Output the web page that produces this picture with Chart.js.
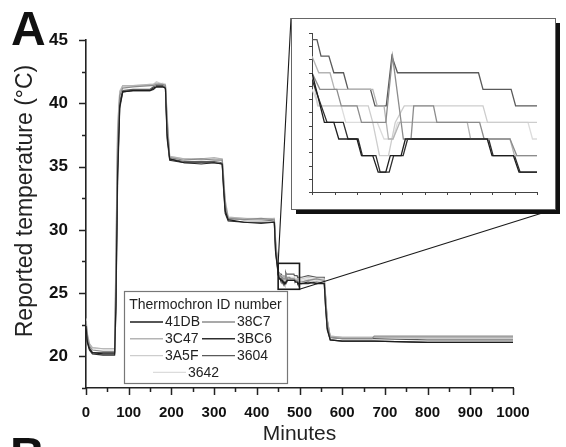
<!DOCTYPE html>
<html>
<head>
<meta charset="utf-8">
<script src="https://cdn.jsdelivr.net/npm/chart.js@4/dist/chart.umd.min.js"></script>
<style>
  html, body { margin: 0; padding: 0; background: #fff; }
  #wrap { position: relative; width: 566px; height: 447px; overflow: hidden; }
  #main { position: absolute; left: 0; top: 0; }
  #inset { position: absolute; left: 289px; top: 16px; }
</style>
</head>
<body>
<div id="wrap">
  <canvas id="main" width="566" height="447"></canvas>
  <canvas id="inset" width="272" height="200"></canvas>
</div>
<script>
// logger ids, in legend order
const loggers = ['41DB', '38C7', '3C47', '3BC6', '3A5F', '3604', '3642'];
const lineColors = ['#1e1e1e', '#8c8c8c', '#b4b4b4', '#2e2e2e', '#cdcdcd', '#5a5a5a', '#dcdcdc'];

// sample times for the whole run (min); 450-500 is filled in by the zoom traces
const runMinutes = [0, 3, 8, 15, 40, 67, 70, 74, 79, 86, 110, 150, 158, 165, 180, 186, 190, 196,
  230, 270, 300, 319, 322, 326, 333, 370, 410, 441, 444, 449,
  505, 520, 540, 558, 561, 565, 572, 600, 670, 675, 800, 1000];

const run41DB = [22.4, 21.2, 20.6, 20.3, 20.2, 20.2, 24.0, 34.5, 39.8, 40.9, 41.0, 41.0, 41.2, 41.3, 41.3, 41.2, 37.5, 35.6,
  35.3, 35.3, 35.3, 35.2, 33.5, 31.5, 30.8, 30.6, 30.6, 30.6, 28.3, 26.9,
  25.75, 25.875, 25.75, 25.75, 24.0, 22.2, 21.3, 21.2, 21.2, 21.2, 21.1, 21.1];
const run38C7 = [22.8, 21.6, 20.8, 20.5, 20.4, 20.4, 26.0, 37.0, 40.6, 41.2, 41.3, 41.4, 41.4, 41.5, 41.5, 41.4, 38.5, 35.7,
  35.5, 35.6, 35.5, 35.5, 34.0, 32.0, 30.9, 30.8, 30.9, 30.8, 29.0, 27.2,
  25.875, 26.0, 26.125, 26.0, 24.5, 22.6, 21.5, 21.4, 21.4, 21.6, 21.6, 21.6];
const run3C47 = [22.9, 21.8, 21.0, 20.7, 20.6, 20.6, 27.5, 38.0, 40.9, 41.4, 41.4, 41.5, 41.5, 41.6, 41.5, 41.5, 39.0, 35.8,
  35.6, 35.6, 35.7, 35.6, 34.3, 32.3, 31.0, 30.9, 30.8, 30.9, 29.2, 27.4,
  25.875, 26.0, 25.875, 25.875, 24.6, 22.7, 21.6, 21.5, 21.5, 21.5, 21.5, 21.5];
const run3BC6 = [22.3, 21.1, 20.5, 20.2, 20.1, 20.1, 23.5, 33.8, 39.6, 40.9, 41.0, 41.0, 41.1, 41.3, 41.3, 41.2, 37.2, 35.5,
  35.3, 35.2, 35.3, 35.2, 33.3, 31.3, 30.7, 30.6, 30.5, 30.6, 28.2, 26.8,
  25.75, 25.75, 25.875, 25.75, 23.9, 22.1, 21.3, 21.2, 21.2, 21.2, 21.1, 21.1];
const run3A5F = [22.7, 21.7, 20.9, 20.6, 20.6, 20.6, 27.0, 37.8, 40.8, 41.3, 41.4, 41.4, 41.5, 41.7, 41.5, 41.4, 38.8, 35.7,
  35.6, 35.5, 35.6, 35.5, 34.1, 32.1, 30.9, 30.8, 30.8, 30.8, 29.0, 27.3,
  26.125, 26.25, 26.125, 26.125, 24.7, 22.8, 21.6, 21.5, 21.5, 21.5, 21.4, 21.4];
const run3604 = [22.6, 21.4, 20.7, 20.3, 20.3, 20.3, 25.0, 35.8, 40.2, 41.0, 41.1, 41.1, 41.3, 41.4, 41.4, 41.3, 38.0, 35.6,
  35.4, 35.4, 35.4, 35.3, 33.8, 31.8, 30.9, 30.8, 30.8, 30.7, 28.8, 27.4,
  26.25, 26.375, 26.25, 26.25, 24.8, 22.9, 21.5, 21.4, 21.4, 21.4, 21.3, 21.3];
const run3642 = [23.0, 21.9, 21.0, 20.7, 20.6, 20.6, 28.0, 38.3, 41.0, 41.4, 41.4, 41.5, 41.5, 41.5, 41.6, 41.5, 39.2, 35.8,
  35.6, 35.6, 35.6, 35.6, 34.4, 32.4, 31.0, 30.9, 30.9, 30.9, 29.3, 27.3,
  26.0, 26.125, 26.0, 26.0, 24.7, 22.8, 21.6, 21.5, 21.5, 21.5, 21.5, 21.5];

// 450-500 min at full logger resolution: [minute, degC]
const zoom41DB = [[450, 26.5], [452.75, 26.125], [454.85, 26.125], [455.95, 26.0], [460, 26.0], [461, 25.875],
  [463.5, 25.875], [464.7, 25.75], [466.4, 25.75], [467.4, 25.875], [469.8, 25.875], [470.75, 26.0],
  [488.95, 26.0], [490, 25.875], [494.75, 25.875], [496, 25.75], [500, 25.75]];
const zoom38C7 = [[450, 26.5], [451.75, 26.375], [455.5, 26.375], [456.5, 26.25], [460, 26.25], [461, 26.125],
  [466.4, 26.125], [467.9, 26.625], [470.3, 26.0], [472, 26.0], [472.6, 26.25], [477, 26.25], [477.75, 26.125],
  [487.25, 26.125], [488.25, 26.0], [494, 26.0], [495.5, 25.875], [500, 25.875]];
const zoom3C47 = [[450, 26.625], [451.5, 26.5], [454, 26.5], [455, 26.375], [463.5, 26.375], [464.5, 26.25],
  [466, 26.25], [467, 26.0], [468, 26.0], [469.5, 26.125], [484.5, 26.125], [485.25, 26.0], [494, 26.0],
  [495, 25.875], [500, 25.875]];
const zoom3BC6 = [[450, 26.45], [453.35, 26.125], [456.95, 26.125], [458, 26.0], [460.25, 26.0], [461.2, 25.875],
  [464.2, 25.875], [465.15, 25.75], [467.15, 25.75], [468.15, 25.875], [470.25, 25.875], [471.25, 26.0],
  [489.25, 26.0], [490.25, 25.875], [495, 25.875], [496.25, 25.75], [500, 25.75]];
const zoom3A5F = [[450, 26.5], [451.25, 26.25], [462.5, 26.25], [463.5, 26.125], [465, 25.875], [467, 25.875],
  [468.5, 26.125], [470.5, 26.25], [488, 26.25], [489, 26.125], [500, 26.125]];
const zoom3604 = [[450, 26.75], [451.1, 26.75], [452, 26.625], [453.75, 26.625], [454.85, 26.5], [457, 26.5],
  [458, 26.375], [463, 26.375], [464, 26.25], [466.5, 26.25], [467.75, 26.625], [469, 26.5], [487, 26.5],
  [488, 26.375], [494.25, 26.375], [495.25, 26.25], [500, 26.25]];
const zoom3642 = [[450, 26.375], [451.5, 26.25], [456.5, 26.25], [457.5, 26.125], [464.5, 26.125], [466, 26.0],
  [468, 26.0], [469, 26.125], [498, 26.125], [499, 26.0], [500, 26.0]];

const runs = [run41DB, run38C7, run3C47, run3BC6, run3A5F, run3604, run3642];
const zooms = [zoom41DB, zoom38C7, zoom3C47, zoom3BC6, zoom3A5F, zoom3604, zoom3642];

// magnified window
const zoomMinutes = [450, 500];
const zoomTemps = [25.3, 27.35];

// where the inset frame sits on the page
const insetFrame = { left: 291, top: 18, right: 555, bottom: 209 };

const FONT = '"Liberation Sans", Arial, sans-serif';
Chart.defaults.font.family = FONT;
Chart.defaults.color = '#111';

function fullTrace(run, zoom) {
  const pts = runMinutes.map((m, i) => ({ x: m, y: run[i] }));
  zoom.forEach(([m, v]) => pts.push({ x: m, y: v }));
  return pts.sort((a, b) => a.x - b.x);
}

function isMajor(v, step) {
  const r = v / step;
  return Math.abs(r - Math.round(r)) < 1e-6;
}

// outward tick marks, long on major values and short on minor ones
const tickMarks = {
  id: 'tickMarks',
  afterDraw(chart, args, o) {
    const ctx = chart.ctx;
    const xs = chart.scales.x, ys = chart.scales.y;
    ctx.save();
    ctx.strokeStyle = o.color;
    ctx.lineWidth = o.width;
    ctx.beginPath();
    xs.ticks.forEach(t => {
      const px = Math.round(xs.getPixelForValue(t.value)) + 0.5;
      const len = isMajor(t.value, o.xMajor) ? o.major : o.minor;
      ctx.moveTo(px, ys.bottom);
      ctx.lineTo(px, ys.bottom + len);
    });
    ys.ticks.forEach(t => {
      const py = Math.round(ys.getPixelForValue(t.value)) + 0.5;
      const len = isMajor(t.value, o.yMajor) ? o.major : o.minor;
      ctx.moveTo(xs.left, py);
      ctx.lineTo(xs.left - len, py);
    });
    ctx.stroke();
    ctx.restore();
  }
};

// y title, zoom box, leader lines, legend and panel letters
const decorations = {
  id: 'decorations',
  afterDraw(chart) {
    const ctx = chart.ctx;
    const xs = chart.scales.x, ys = chart.scales.y;
    ctx.save();

    ctx.save();
    ctx.translate(26, 201);
    ctx.rotate(-Math.PI / 2);
    ctx.fillStyle = '#222';
    ctx.font = '23px ' + FONT;
    ctx.textAlign = 'center';
    ctx.textBaseline = 'middle';
    ctx.fillText('Reported temperature (°C)', 0, 0);
    ctx.restore();

    const x0 = xs.getPixelForValue(zoomMinutes[0]), x1 = xs.getPixelForValue(zoomMinutes[1]);
    const y0 = ys.getPixelForValue(zoomTemps[1]), y1 = ys.getPixelForValue(zoomTemps[0]);
    ctx.strokeStyle = '#1a1a1a';
    ctx.lineWidth = 1.6;
    ctx.strokeRect(x0, y0, x1 - x0, y1 - y0);

    ctx.lineWidth = 1.1;
    ctx.beginPath();
    ctx.moveTo(x0, y0);
    ctx.lineTo(insetFrame.left, insetFrame.top);
    ctx.moveTo(x1, y1);
    ctx.lineTo(insetFrame.right, insetFrame.bottom);
    ctx.stroke();

    // legend
    const box = { left: 124, top: 291, right: 287, bottom: 383 };
    ctx.fillStyle = '#fff';
    ctx.fillRect(box.left, box.top, box.right - box.left, box.bottom - box.top);
    ctx.strokeStyle = '#777';
    ctx.lineWidth = 1.2;
    ctx.strokeRect(box.left + 0.5, box.top + 0.5, box.right - box.left, box.bottom - box.top);
    ctx.fillStyle = '#222';
    ctx.font = '14px ' + FONT;
    ctx.textBaseline = 'middle';
    ctx.textAlign = 'center';
    ctx.fillText('Thermochron ID number', (box.left + box.right) / 2, 305);
    ctx.textAlign = 'left';
    chart.data.datasets.forEach((ds, i) => {
      const row = Math.floor(i / 2);
      let lx = i % 2 === 0 ? 130 : 202;
      if (i === 6) lx = 153;
      const ly = 322 + row * 16.8;
      ctx.strokeStyle = ds.borderColor;
      ctx.lineWidth = 1.4;
      ctx.beginPath();
      ctx.moveTo(lx, ly);
      ctx.lineTo(lx + 33, ly);
      ctx.stroke();
      ctx.fillText(ds.label, lx + 35, ly + 0.5);
    });

    ctx.fillStyle = '#111';
    ctx.font = 'bold 48px ' + FONT;
    ctx.textBaseline = 'alphabetic';
    ctx.fillText('A', 11, 45);
    ctx.fillText('B', 10, 471);
    ctx.restore();
  }
};

new Chart(document.getElementById('main'), {
  type: 'line',
  data: {
    datasets: loggers.map((id, i) => ({
      label: id,
      data: fullTrace(runs[i], zooms[i]),
      borderColor: lineColors[i],
      borderWidth: 1.2,
      pointRadius: 0,
      fill: false
    }))
  },
  options: {
    responsive: false,
    animation: false,
    layout: { padding: { left: 0, top: 40, right: 53, bottom: 0 } },
    plugins: {
      legend: { display: false },
      tooltip: { enabled: false },
      tickMarks: { color: '#222', width: 1.5, major: 7, minor: 4, xMajor: 100, yMajor: 5 }
    },
    scales: {
      x: {
        type: 'linear', min: 0, max: 1000,
        afterFit: s => { s.height = 59; },
        grid: { display: false },
        border: { color: '#222', width: 1.6 },
        ticks: {
          stepSize: 50, autoSkip: false, maxRotation: 0, padding: 8,
          font: { size: 15, weight: 'bold' },
          callback: v => (v % 100 === 0 ? v : '')
        },
        title: { display: true, text: 'Minutes', font: { size: 21 }, color: '#222', padding: { top: 0, bottom: 0 } }
      },
      y: {
        min: 17.5, max: 45,
        afterFit: s => { s.width = 86; },
        grid: { display: false },
        border: { color: '#222', width: 1.6 },
        ticks: {
          stepSize: 2.5, padding: 10,
          font: { size: 17, weight: 'bold' },
          callback: v => (v % 5 === 0 ? v : '')
        }
      }
    }
  },
  plugins: [tickMarks, decorations]
});

// framed inset with drop shadow
const insetBackdrop = {
  id: 'insetBackdrop',
  beforeDraw(chart) {
    const ctx = chart.ctx;
    const w = insetFrame.right - insetFrame.left, h = insetFrame.bottom - insetFrame.top;
    ctx.save();
    ctx.fillStyle = '#111';
    ctx.fillRect(7, 7, w, h);
    ctx.fillStyle = '#fff';
    ctx.fillRect(2, 2, w, h);
    ctx.strokeStyle = '#666';
    ctx.lineWidth = 1;
    ctx.strokeRect(2.5, 2.5, w, h);
    ctx.restore();
  }
};

new Chart(document.getElementById('inset'), {
  type: 'line',
  data: {
    datasets: loggers.map((id, i) => ({
      label: id,
      data: zooms[i].map(([m, v]) => ({ x: m, y: v })),
      borderColor: lineColors[i],
      borderWidth: 1.3,
      pointRadius: 0,
      fill: false
    }))
  },
  options: {
    responsive: false,
    animation: false,
    layout: { padding: { left: 23, right: 24, top: 17, bottom: 24 } },
    plugins: {
      legend: { display: false },
      tooltip: { enabled: false },
      tickMarks: { color: '#444', width: 1, major: 3, minor: 3, xMajor: 5, yMajor: 0.1 }
    },
    scales: {
      x: {
        type: 'linear', min: 450, max: 500,
        afterFit: s => { s.height = 0; },
        grid: { display: false },
        border: { color: '#444', width: 1 },
        ticks: { display: false, stepSize: 5 }
      },
      y: {
        min: 25.6, max: 26.8,
        afterFit: s => { s.width = 0; },
        grid: { display: false },
        border: { color: '#444', width: 1 },
        ticks: { display: false, stepSize: 0.1 }
      }
    }
  },
  plugins: [insetBackdrop, tickMarks]
});
</script>
</body>
</html>
